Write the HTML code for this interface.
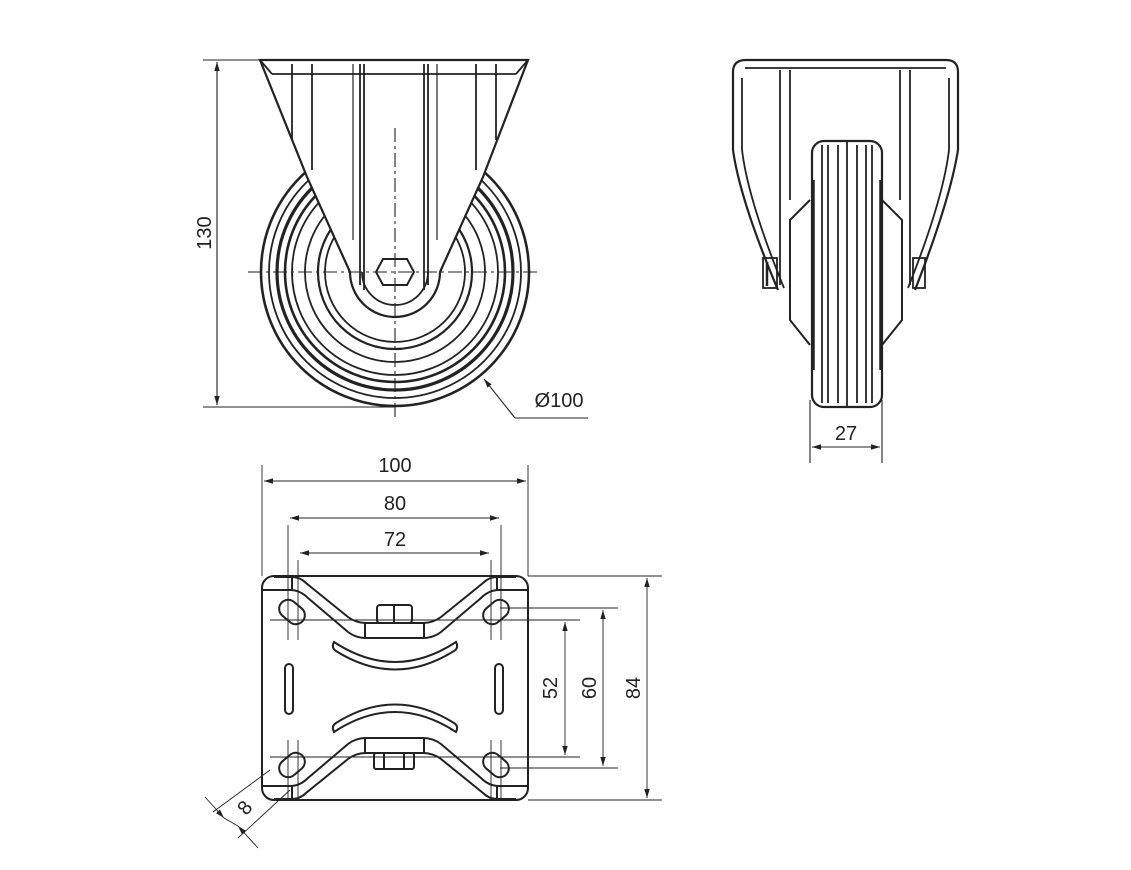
<!DOCTYPE html>
<html><head><meta charset="utf-8"><style>
html,body{margin:0;padding:0;background:#fff}
svg{display:block}
text{font-family:"Liberation Sans",sans-serif;font-size:20px;fill:#222}
</style></head><body>
<svg width="1131" height="870" viewBox="0 0 1131 870" xmlns="http://www.w3.org/2000/svg">
<defs>
<marker id="a" viewBox="0 0 10 10" refX="10" refY="5" markerWidth="9" markerHeight="9" orient="auto-start-reverse" markerUnits="userSpaceOnUse"><path d="M0,2 L10,5 L0,8 Z" fill="#222"/></marker>
</defs>
<g fill="none" stroke="#222" stroke-width="1.8">
<circle cx="395" cy="272" r="134" stroke-width="2.6"/>
<circle cx="395" cy="272" r="126"/>
<circle cx="395" cy="272" r="118" stroke-width="3.2"/>
<circle cx="395" cy="272" r="110" stroke-width="2.6"/>
<circle cx="395" cy="272" r="103"/>
<circle cx="395" cy="272" r="90"/>
<circle cx="395" cy="272" r="77" stroke-width="2.2"/>
<circle cx="395" cy="272" r="70"/>
<path d="M260,60 L528,60 L483,177 L440,272 A45,45 0 0 1 350,272 L307,177 Z" fill="#fff" stroke-width="2.2"/>
<path d="M272,74 L516,74"/>
<path d="M260,60 L272,74 M528,60 L516,74"/>
<path d="M362,272 A33,33 0 0 0 428,272"/>
<path d="M292,64 L292,140 M312,64 L312,170 M360,64 L360,285 M364,64 L364,290 M424,64 L424,290 M428,64 L428,285 M476,64 L476,170 M496,64 L496,140"/>
<path d="M353,64 L353,240 M437,64 L437,240" stroke-width="1.2"/>
<polygon points="383,259 407,259 414,272 407,285 383,285 376,272" fill="#fff" stroke-width="2"/>
</g>
<g stroke="#222" stroke-width="1.1" stroke-dasharray="14,4,3,4" fill="none">
<path d="M395,128 L395,420"/>
<path d="M248,272 L540,272"/>
</g>
<g stroke="#222" stroke-width="1.1" fill="none">
<path d="M203,60 L260,60 M203,407 L395,407"/>
<path d="M217,62 L217,405" marker-start="url(#a)" marker-end="url(#a)"/>
<path d="M515,418 L588,418"/>
<path d="M515,418 L484,379" marker-end="url(#a)"/>
</g>
<text transform="translate(211,233) rotate(-90)" text-anchor="middle">130</text>
<text x="559" y="407" text-anchor="middle">Ø100</text>

<g fill="none" stroke="#222" stroke-width="1.8">
<path d="M746,60 L946,60 Q958,60 958,72 L958,150 Q950,200 915,290 M733,150 L733,72 Q733,60 746,60 M733,150 Q740,200 778,290" stroke-width="2.2"/>
<path d="M745,68 L946,68 M742,78 L742,150 Q748,200 784,288 M949,78 L949,150 Q943,200 908,288"/>
<path d="M780,70 L780,285 M790,70 L790,200 M900,70 L900,200 M910,70 L910,285"/>
<path d="M810,200 L790,220 L790,320 L810,345 M882,200 L902,220 L902,320 L882,345" stroke-width="2"/>
<rect x="763" y="258" width="14" height="30"/><rect x="913" y="258" width="12" height="30"/>
<path d="M767,262 L767,286" stroke-width="2.5"/>
<rect x="812" y="141" width="70" height="266" rx="12" fill="#fff" stroke-width="2.2"/>
<path d="M822,145 L822,403 M828,145 L828,403 M838,145 L838,403 M847,141 L847,407 M857,145 L857,403 M866,145 L866,403 M872,145 L872,403"/>
<path d="M813,180 L813,370 M881,180 L881,370" stroke-width="3.5"/>
</g>
<g stroke="#222" stroke-width="1.1" fill="none">
<path d="M810,400 L810,463 M882,400 L882,463"/>
<path d="M812,447 L880,447" marker-start="url(#a)" marker-end="url(#a)"/>
</g>
<text x="846" y="440" text-anchor="middle">27</text>

<g fill="none" stroke="#222" stroke-width="2">
<rect x="262" y="576" width="266" height="224" rx="12"/>
<path d="M274,577 L292,577 Q300,577 306,583 L348,617 Q356,623 366,623 L423,623 Q433,623 441,617 L483,583 Q489,577 497,577 L516,577"/>
<path d="M262,590 L290,590 Q300,590 308,598 L348,632 Q356,638 366,638 L423,638 Q433,638 441,632 L481,598 Q489,590 499,590 L528,590"/>
<path d="M365,623 L365,638 M424,623 L424,638 M292,577 L292,590 M497,577 L497,590"/>
<rect x="377" y="605" width="35" height="18" rx="3"/><path d="M394,605 L394,623"/>
<path d="M274,799 L292,799 Q300,799 306,793 L348,759 Q356,753 366,753 L423,753 Q433,753 441,759 L483,793 Q489,799 497,799 L516,799"/>
<path d="M262,786 L290,786 Q300,786 308,778 L348,744 Q356,738 366,738 L423,738 Q433,738 441,744 L481,778 Q489,786 499,786 L528,786"/>
<path d="M365,738 L365,753 M424,738 L424,753 M292,786 L292,799 M497,786 L497,799"/>
<rect x="374" y="753" width="40" height="16" rx="2"/><path d="M384,753 L384,769 M404,753 L404,769"/>
<path d="M334,642 Q395,682 456,642 Q459,648 454,651 Q395,688 336,651 Q331,648 334,642 Z"/>
<path d="M334,732 Q395,692 456,732 Q459,726 454,723 Q395,686 336,723 Q331,726 334,732 Z"/>
<rect x="285" y="664" width="8" height="50" rx="4"/>
<rect x="495" y="664" width="8" height="50" rx="4"/>
<rect x="278" y="603" width="28" height="18" rx="9" transform="rotate(40 292 612)"/>
<rect x="482" y="603" width="28" height="18" rx="9" transform="rotate(-40 496 612)"/>
<rect x="278" y="756" width="28" height="18" rx="9" transform="rotate(-40 292 765)"/>
<rect x="482" y="756" width="28" height="18" rx="9" transform="rotate(40 496 765)"/>
</g>
<g stroke="#222" stroke-width="0.9" fill="none">
<path d="M288,525 L288,640 M298,560 L298,640 M491,560 L491,640 M501,525 L501,640 M288,740 L288,800 M298,740 L298,800 M491,740 L491,800 M501,740 L501,800"/>
<path d="M262,465 L262,576 M528,465 L528,576"/>
<path d="M264,481 L526,481" marker-start="url(#a)" marker-end="url(#a)"/>
<path d="M290,518 L499,518" marker-start="url(#a)" marker-end="url(#a)"/>
<path d="M300,553 L489,553" marker-start="url(#a)" marker-end="url(#a)"/>
<path d="M528,576 L662,576 M528,800 L662,800 M500,608 L618,608 M500,768 L618,768 M270,620 L580,620 M270,757 L580,757"/>
<path d="M647,578 L647,798" marker-start="url(#a)" marker-end="url(#a)"/>
<path d="M603,610 L603,766" marker-start="url(#a)" marker-end="url(#a)"/>
<path d="M565,622 L565,755" marker-start="url(#a)" marker-end="url(#a)"/>
<path d="M270,770 L213,812 M290,790 L238,838"/>
<path d="M205,797 L224,818" marker-end="url(#a)"/>
<path d="M258,848 L238,826" marker-end="url(#a)"/>
<path d="M224,818 L238,826"/>
</g>
<text x="395" y="472" text-anchor="middle">100</text>
<text x="395" y="510" text-anchor="middle">80</text>
<text x="395" y="546" text-anchor="middle">72</text>
<text transform="translate(557,688) rotate(-90)" text-anchor="middle">52</text>
<text transform="translate(596,688) rotate(-90)" text-anchor="middle">60</text>
<text transform="translate(640,688) rotate(-90)" text-anchor="middle">84</text>
<text transform="translate(250,812) rotate(-50)" text-anchor="middle">8</text>
</svg>
</body></html>
